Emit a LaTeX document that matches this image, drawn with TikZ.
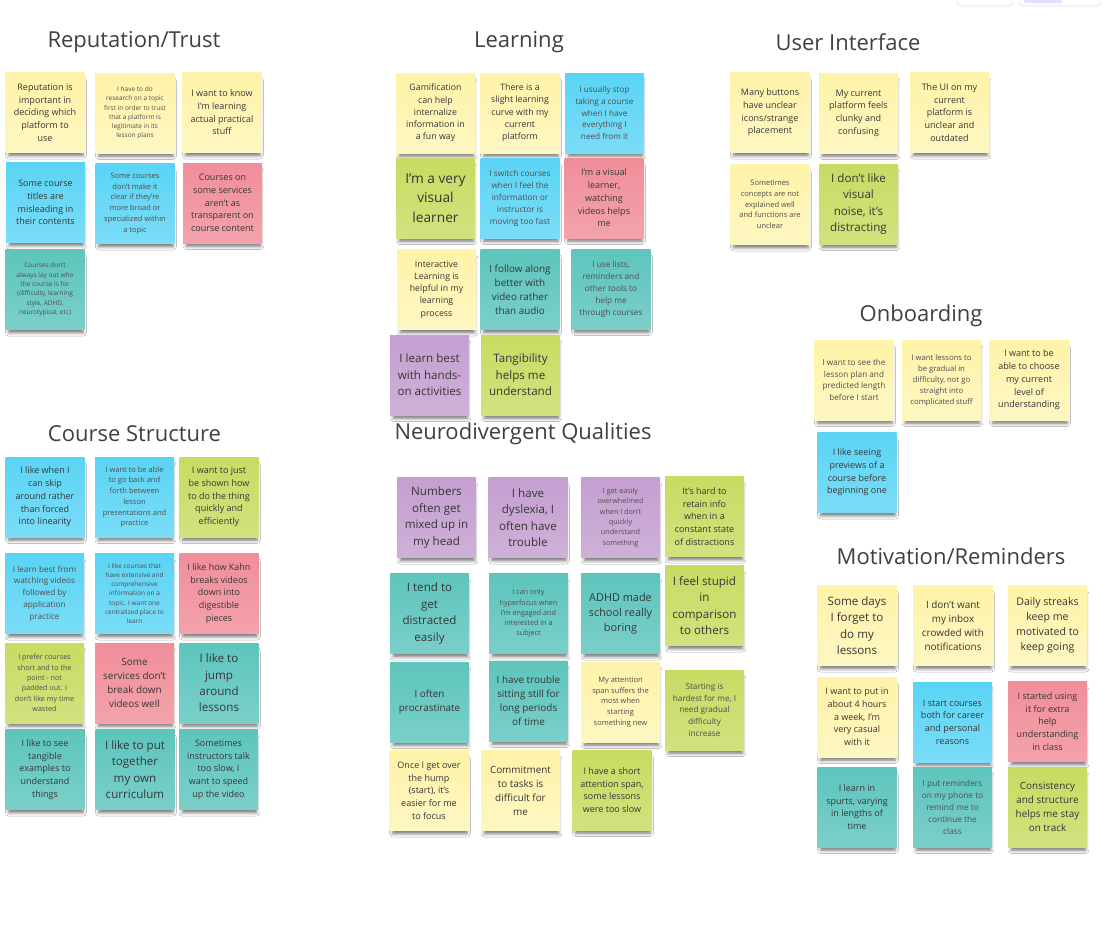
\documentclass[tikz,border=0pt]{standalone}
\usepackage{fontspec}
\setmainfont{Open Sans}
\usetikzlibrary{shadows.blur}
\definecolor{ink}{HTML}{363636}
\definecolor{inklt}{HTML}{4E4E4E}
\definecolor{cY}{HTML}{FEF3A8}
\definecolor{cB}{HTML}{5AD4F5}
\definecolor{cP}{HTML}{F08E99}
\definecolor{cT}{HTML}{5DC5BD}
\definecolor{cG}{HTML}{C8DB62}
\definecolor{cV}{HTML}{C49FD0}
\tikzset{
  stickynote/.style={minimum width=79pt, minimum height=80pt, inner sep=1pt, align=center, text=ink,
    blur shadow={shadow xshift=1pt, shadow yshift=-6pt, shadow opacity=55, shadow blur radius=3.5pt, shadow scale=0.94}},
  yel/.style={stickynote, top color=cY, bottom color=cY!70!white},
  blu/.style={stickynote, top color=cB, bottom color=cB!80!white},
  pnk/.style={stickynote, top color=cP, bottom color=cP!82!white},
  tea/.style={stickynote, top color=cT, bottom color=cT!82!white},
  grn/.style={stickynote, top color=cG, bottom color=cG!82!white},
  prp/.style={stickynote, top color=cV, bottom color=cV!82!white},
  grptitle/.style={text=ink!95, font=\fontsize{22}{26}\selectfont},
  fa/.style={font=\fontsize{6.5}{9.3}\selectfont, text=inklt},
  fb/.style={font=\fontsize{7.2}{10.3}\selectfont, text=inklt},
  fc/.style={font=\fontsize{7.5}{10.7}\selectfont, text=inklt},
  fd/.style={font=\fontsize{7.7}{11}\selectfont, text=inklt},
  fe/.style={font=\fontsize{8.2}{11.7}\selectfont, text=inklt},
  ff/.style={font=\fontsize{8.3}{12}\selectfont, text=inklt},
  fg/.style={font=\fontsize{8.8}{12.3}\selectfont},
  fh/.style={font=\fontsize{9}{12.7}\selectfont},
  fi/.style={font=\fontsize{9.9}{14}\selectfont},
  fj/.style={font=\fontsize{10.6}{15}\selectfont},
  fk/.style={font=\fontsize{10.9}{15.3}\selectfont},
  fl/.style={font=\fontsize{11.6}{16.4}\selectfont},
  fm/.style={font=\fontsize{13.7}{19.3}\selectfont},
}
\begin{document}
\begin{tikzpicture}[x=1pt, y=-1pt]
\useasboundingbox (0,0) rectangle (1105,930);
\fill[white] (0,0) rectangle (1105,930);
% top-right toolbar remnants
\fill[black!6, rounded corners=3pt] (957,-6) rectangle (1013,6.5);
\fill[white, rounded corners=3pt] (958,-6) rectangle (1012,5);
\fill[black!6, rounded corners=3pt] (1019,-6) rectangle (1101,6.5);
\fill[white, rounded corners=3pt] (1020,-6) rectangle (1100,5);
\fill[blue!12, rounded corners=2pt] (1024,-4) rectangle (1062,3);

% ---------- Reputation/Trust ----------
\node[grptitle] (tRep) at (134,42.5) {Reputation/Trust};
\node[yel,fh] (r1) at (45,112.5) {Reputation is\\important in\\deciding which\\platform to\\use};
\node[yel,fa] (r2) at (135,113) {I have to do\\research on a topic\\first in order to trust\\that a platform is\\legitimate in its\\lesson plans};
\node[yel,fh] (r3) at (222,112.5) {I want to know\\I'm learning\\actual practical\\stuff};
\node[blu,fh] (r4) at (45.5,202.5) {Some course\\titles are\\misleading in\\their contents};
\node[blu,fc] (r5) at (135,203.5) {Some courses\\don't make it\\clear if they're\\more broad or\\specialized within\\a topic};
\node[pnk,fh] (r6) at (222.5,203) {Courses on\\some services\\aren't as\\transparent on\\course content};
\node[tea,fa] (r7) at (45,289.5) {Courses don't\\always lay out who\\the course is for\\(difficulty, learning\\style, ADHD,\\neurotypical, etc)};

% ---------- Learning ----------
\node[grptitle] (tLea) at (519,42.5) {Learning};
\node[yel,fg] (l1) at (435.5,113) {Gamification\\can help\\internalize\\information in\\a fun way};
\node[yel,fg] (l2) at (520,113) {There is a\\slight learning\\curve with my\\current\\platform};
\node[blu,fe] (l3) at (604.5,113) {I usually stop\\taking a course\\when I have\\everything I\\need from it};
\node[grn,fm] (l4) at (435.5,198) {I'm a very\\visual\\learner};
\node[blu,ff] (l5) at (520,198) {I switch courses\\when I feel the\\information or\\instructor is\\moving too fast};
\node[pnk,fh] (l6) at (604,198) {I'm a visual\\learner,\\watching\\videos helps\\me};
\node[yel,fg] (l7) at (436.5,289.5) {Interactive\\Learning is\\helpful in my\\learning\\process};
\node[tea,fi] (l8) at (520,289.5) {I follow along\\better with\\video rather\\than audio};
\node[tea,ff] (l9) at (611,289) {I use lists,\\reminders and\\other tools to\\help me\\through courses};
\node[prp,fl] (l10) at (429.5,375) {I learn best\\with hands-\\on activities};
\node[grn,fl] (l11) at (520.5,375) {Tangibility\\helps me\\understand};

% ---------- User Interface ----------
\node[grptitle] (tUI) at (848,42.5) {User Interface};
\node[yel,fh] (u1) at (770,112.5) {Many buttons\\have unclear\\icons/strange\\placement};
\node[yel,fh] (u2) at (858.5,113) {My current\\platform feels\\clunky and\\confusing};
\node[yel,fh] (u3) at (949.5,112.5) {The UI on my\\current\\platform is\\unclear and\\outdated};
\node[yel,fc] (u4) at (770,204.5) {Sometimes\\concepts are not\\explained well\\and functions are\\unclear};
\node[grn,fl] (u5) at (858.5,204) {I don't like\\visual\\noise, it's\\distracting};

% ---------- Onboarding ----------
\node[grptitle] (tOnb) at (921,315.5) {Onboarding};
\node[yel,fe] (o1) at (854,380) {I want to see the\\lesson plan and\\predicted length\\before I start};
\node[yel,fd] (o2) at (941.5,380) {I want lessons to\\be gradual in\\difficulty, not go\\straight into\\complicated stuff};
\node[yel,fh] (o3) at (1029,380) {I want to be\\able to choose\\my current\\level of\\understanding};
\node[blu,fh] (o4) at (857,472.5) {I like seeing\\previews of a\\course before\\beginning one};

% ---------- Course Structure ----------
\node[grptitle] (tCou) at (134.5,433.5) {Course Structure};
\node[blu,fh] (c1) at (45,497) {I like when I\\can skip\\around rather\\than forced\\into linearity};
\node[blu,fc] (c2) at (134.5,497) {I want to be able\\to go back and\\forth between\\lesson\\presentations and\\practice};
\node[grn,fh] (c3) at (219,497) {I want to just\\be shown how\\to do the thing\\quickly and\\efficiently};
\node[blu,fe] (c4) at (44.5,593.5) {I learn best from\\watching videos\\followed by\\application\\practice};
\node[blu,fa] (c5) at (134.5,593.5) {I like courses that\\have extensive and\\comprehensive\\information on a\\topic. I want one\\centralized place to\\learn};
\node[pnk,fh] (c6) at (219,593.5) {I like how Kahn\\breaks videos\\down into\\digestible\\pieces};
\node[grn,fb] (c7) at (44.5,683) {I prefer courses\\short and to the\\point - not\\padded out. I\\don't like my time\\wasted};
\node[pnk,fi] (c8) at (134.5,683) {Some\\services don't\\break down\\videos well};
\node[tea,fl] (c9) at (219,683) {I like to\\jump\\around\\lessons};
\node[tea,fh] (c10) at (45,769.5) {I like to see\\tangible\\examples to\\understand\\things};
\node[tea,fl] (c11) at (135,769.5) {I like to put\\together\\my own\\curriculum};
\node[tea,fh] (c12) at (218.5,769.5) {Sometimes\\instructors talk\\too slow, I\\want to speed\\up the video};

% ---------- Neurodivergent Qualities ----------
\node[grptitle] (tNeu) at (523,433.5) {Neurodivergent Qualities};
\node[prp,fl] (n1) at (436.5,517.5) {Numbers\\often get\\mixed up in\\my head};
\node[prp,fl] (n2) at (528,517.5) {I have\\dyslexia, I\\often have\\trouble};
\node[prp,fb] (n3) at (620.5,517.5) {I get easily\\overwhelmed\\when I don't\\quickly\\understand\\something};
\node[grn,fh] (n4) at (704.5,516.5) {It's hard to\\retain info\\when in a\\constant state\\of distractions};
\node[tea,fl] (n5) at (429.5,613.5) {I tend to\\get\\distracted\\easily};
\node[tea,fb] (n6) at (528.5,613.5) {I can only\\hyperfocus when\\I'm engaged and\\interested in a\\subject};
\node[tea,fk] (n7) at (620.5,613.5) {ADHD made\\school really\\boring};
\node[grn,fl] (n8) at (704.5,605.5) {I feel stupid\\in\\comparison\\to others};
\node[tea,fi] (n9) at (429.5,702) {I often\\procrastinate};
\node[tea,fi] (n10) at (528.5,701) {I have trouble\\sitting still for\\long periods\\of time};
\node[yel,fc] (n11) at (620.5,702) {My attention\\span suffers the\\most when\\starting\\something new};
\node[grn,fe] (n12) at (704.5,710) {Starting is\\hardest for me, I\\need gradual\\difficulty\\increase};
\node[yel,fh] (n13) at (429,790.5) {Once I get over\\the hump\\(start), it's\\easier for me\\to focus};
\node[yel,fi] (n14) at (520.5,790.5) {Commitment\\to tasks is\\difficult for\\me};
\node[grn,fh] (n15) at (612,790) {I have a short\\attention span,\\some lessons\\were too slow};

% ---------- Motivation/Reminders ----------
\node[grptitle] (tMot) at (951,556.5) {Motivation/Reminders};
\node[yel,fl] (m1) at (857,625.5) {Some days\\I forget to\\do my\\lessons};
\node[yel,fi] (m2) at (953,625.5) {I don't want\\my inbox\\crowded with\\notifications};
\node[yel,fj] (m3) at (1047.5,625.5) {Daily streaks\\keep me\\motivated to\\keep going};
\node[yel,fh] (m4) at (857,717) {I want to put in\\about 4 hours\\a week, I'm\\very casual\\with it};
\node[blu,fh] (m5) at (952.5,722) {I start courses\\both for career\\and personal\\reasons};
\node[pnk,fh] (m6) at (1047.5,721.5) {I started using\\it for extra\\help\\understanding\\in class};
\node[tea,fh] (m7) at (857,807) {I learn in\\spurts, varying\\in lengths of\\time};
\node[tea,ff] (m8) at (952.5,807) {I put reminders\\on my phone to\\remind me to\\continue the\\class};
\node[grn,fi] (m9) at (1047.5,807) {Consistency\\and structure\\helps me stay\\on track};
\end{tikzpicture}
\end{document}
